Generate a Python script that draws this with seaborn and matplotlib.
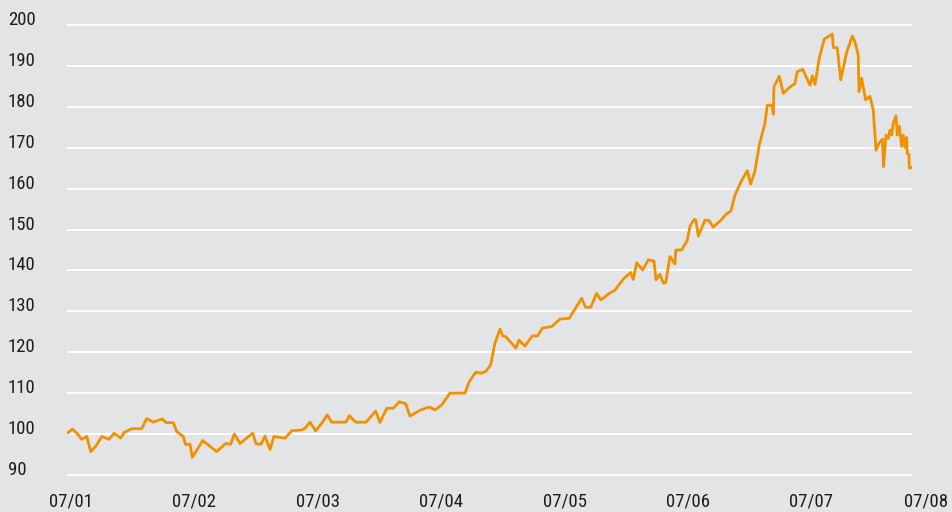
import matplotlib
matplotlib.use('Agg')
import matplotlib.pyplot as plt
import matplotlib.transforms as mtransforms
from matplotlib import font_manager
import seaborn as sns
import pandas as pd

# index values, time in years since 07/01
years = [0.0, 0.035, 0.071, 0.111, 0.152, 0.184, 0.227, 0.273, 0.332, 0.373,
         0.427, 0.456, 0.516, 0.597, 0.638, 0.691, 0.764, 0.794, 0.853, 0.881,
         0.934, 0.951, 0.989, 1.007, 1.092, 1.205, 1.278, 1.318, 1.348, 1.394,
         1.497, 1.524, 1.564, 1.596, 1.637, 1.669, 1.759, 1.813, 1.894, 1.921,
         1.961, 2.007, 2.056, 2.101, 2.137, 2.253, 2.280, 2.331, 2.415, 2.494,
         2.528, 2.583, 2.636, 2.685, 2.737, 2.771, 2.858, 2.928, 2.974, 3.028,
         3.096, 3.217, 3.250, 3.304, 3.347, 3.385, 3.425, 3.460, 3.501, 3.523,
         3.547, 3.630, 3.655, 3.703, 3.763, 3.806, 3.844, 3.920, 3.987, 4.062,
         4.163, 4.195, 4.236, 4.284, 4.319, 4.387, 4.433, 4.500, 4.560, 4.581,
         4.609, 4.657, 4.703, 4.749, 4.765, 4.797, 4.824, 4.844, 4.878, 4.919,
         4.925, 4.973, 5.019, 5.041, 5.075, 5.089, 5.108, 5.162, 5.194, 5.229,
         5.289, 5.332, 5.373, 5.405, 5.454, 5.505, 5.532, 5.567, 5.602, 5.648,
         5.667, 5.703, 5.716, 5.721, 5.764, 5.797, 5.837, 5.891, 5.910, 5.954,
         6.013, 6.032, 6.054, 6.088, 6.129, 6.194, 6.202, 6.234, 6.262, 6.310,
         6.356, 6.378, 6.404, 6.410, 6.432, 6.464, 6.499, 6.526, 6.548, 6.572,
         6.600, 6.609, 6.629, 6.648, 6.661, 6.675, 6.688, 6.710, 6.720, 6.737,
         6.756, 6.769, 6.783, 6.797, 6.801, 6.815, 6.818, 6.837]

index = [100.3, 101.2, 100.2, 98.7, 99.4, 95.7, 97.1, 99.4, 98.7, 100.2,
         99.0, 100.4, 101.3, 101.3, 103.8, 102.9, 103.7, 102.8, 102.8, 100.6,
         99.4, 97.5, 97.5, 94.3, 98.4, 95.7, 97.7, 97.5, 100.0, 97.7,
         100.2, 97.6, 97.5, 99.5, 96.2, 99.4, 99.0, 100.8, 101.0, 101.4,
         102.9, 100.8, 102.6, 104.7, 102.9, 102.9, 104.5, 102.9, 102.9, 105.6,
         102.8, 106.3, 106.3, 107.9, 107.4, 104.4, 105.9, 106.6, 105.9, 107.1,
         110.0, 110.0, 112.7, 115.1, 114.9, 115.3, 116.9, 122.2, 125.7, 124.0,
         123.8, 121.0, 123.0, 121.5, 124.0, 124.0, 125.9, 126.3, 128.1, 128.3,
         133.2, 131.0, 131.0, 134.4, 132.8, 134.4, 135.2, 137.9, 139.5, 137.8,
         141.9, 140.1, 142.6, 142.3, 137.7, 139.1, 136.9, 137.0, 143.4, 141.6,
         145.0, 145.0, 147.4, 150.9, 152.5, 152.3, 148.4, 152.3, 152.2, 150.6,
         152.2, 153.7, 154.6, 158.4, 161.7, 164.4, 161.1, 164.3, 170.7, 176.0,
         180.4, 180.4, 178.2, 184.9, 187.5, 183.3, 184.5, 185.7, 188.6, 189.2,
         185.3, 187.6, 185.5, 191.9, 196.6, 197.8, 194.5, 194.5, 186.6, 193.3,
         197.3, 195.9, 192.7, 183.7, 187.0, 181.7, 182.6, 179.2, 169.4, 171.1,
         172.1, 165.4, 173.1, 172.3, 174.3, 173.1, 176.0, 177.8, 173.1, 175.3,
         170.3, 173.1, 170.1, 172.5, 168.6, 168.4, 165.0, 165.2]

tick_years = [0, 1, 2, 3, 4, 5, 6]
tick_labels = ['07/01', '07/02', '07/03', '07/04', '07/05', '07/06', '07/07']
last_year, last_label = 7, '07/08'
y_ticks = [90, 100, 110, 120, 130, 140, 150, 160, 170, 180, 190, 200]

bg = '#e3e4e6'
orange = '#f29100'
text_col = '#1e1e1e'

sns.set_theme(style='darkgrid', rc={'axes.facecolor': bg, 'figure.facecolor': bg,
                                   'grid.color': 'white', 'grid.linewidth': 1.3})

# the labels use a narrow sans; pick whichever condensed face is installed
installed = {f.name for f in font_manager.fontManager.ttflist}
font_name, font_size = 'Liberation Sans', 13
for name, size in [('Liberation Sans Narrow', 15), ('Roboto Condensed', 13.5),
                   ('DejaVu Sans Condensed', 12.5)]:
    if name in installed:
        font_name, font_size = name, size
        break
plt.rcParams['font.family'] = [font_name, 'DejaVu Sans']

df = pd.DataFrame({'year': years, 'index': index})

fig = plt.figure(figsize=(9.52, 5.12), dpi=100)
ax = fig.add_axes([0.0704, 0.0684, 0.8876, 0.8866])

sns.lineplot(data=df, x='year', y='index', sort=False, color=orange, linewidth=2.0, ax=ax)

ax.set_yticks(y_ticks)
ax.set_xticks(tick_years)
ax.set_xticklabels(tick_labels)
ax.set_xlim(-0.008, 6.84)
ax.set_ylim(89.5, 200.5)
ax.grid(axis='x', visible=False)
ax.grid(axis='y', visible=True)
for s in ax.spines.values():
    s.set_visible(False)
ax.set_xlabel('')
ax.set_ylabel('')

x_pad = 21.5
ax.tick_params(axis='both', length=0, labelsize=font_size, labelcolor=text_col)
ax.tick_params(axis='y', pad=42.5)
ax.tick_params(axis='x', pad=x_pad)
for lab in ax.get_yticklabels():
    lab.set_horizontalalignment('left')
    lab.set_verticalalignment('baseline')

# x labels sit a little right of their ticks
shift = mtransforms.ScaledTranslation(3 / 100, 0, fig.dpi_scale_trans)
for lab in ax.get_xticklabels():
    lab.set_verticalalignment('baseline')
    lab.set_transform(lab.get_transform() + shift)

# 07/08 lies past the end of the data, so it is drawn as a plain label
end_trans = ax.get_xaxis_transform() + mtransforms.ScaledTranslation(-6 / 100, -x_pad / 72, fig.dpi_scale_trans)
ax.text(last_year, 0, last_label, transform=end_trans, ha='center', va='baseline',
        fontsize=font_size, color=text_col, clip_on=False)

fig.savefig('out.png', dpi=100, facecolor=bg)
